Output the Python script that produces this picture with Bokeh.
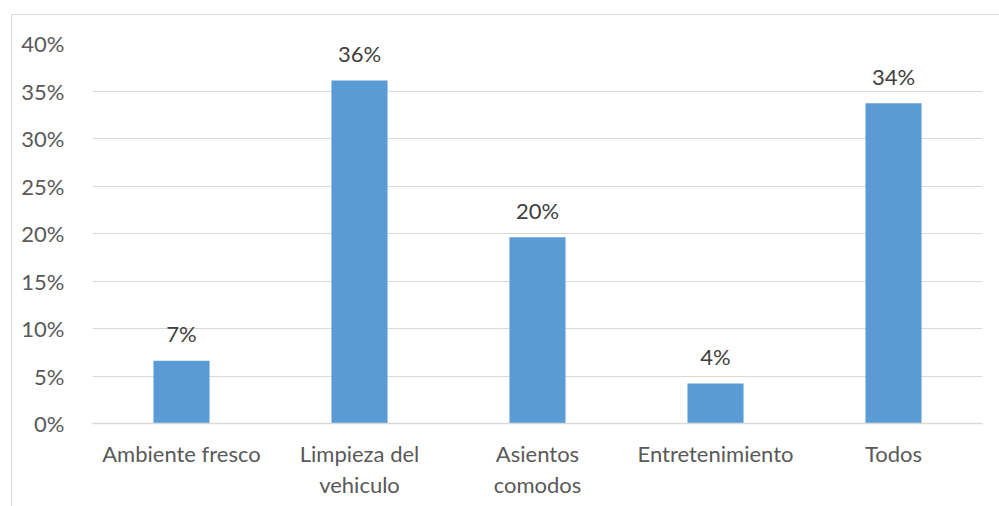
from bokeh.plotting import figure
from bokeh.models import Range1d, NumeralTickFormatter, FixedTicker, ColumnDataSource
from bokeh.core.properties import value
from bokeh.embed import file_html
from bokeh.resources import INLINE

categories = ["Ambiente fresco", "Limpieza del\nvehiculo", "Asientos\ncomodos", "Entretenimiento", "Todos"]
values = [0.066, 0.361, 0.196, 0.042, 0.337]
y_ticks = [0.0, 0.05, 0.10, 0.15, 0.20, 0.25, 0.30, 0.35, 0.40]

labels = [f"{int(v * 100 + 0.5)}%" for v in values]
src = ColumnDataSource(dict(x=categories, top=values, label=labels))

FONT = "Lato"
FS = "22px"

p = figure(x_range=categories, y_range=Range1d(0, 0.4),
           frame_width=890, frame_height=380,
           min_border_left=80, min_border_right=17, min_border_top=28, min_border_bottom=83,
           output_backend="svg", toolbar_location=None)
p.margin = (14, 0, 0, 11)
p.styles = {"border-left": "1px solid #d9d9d9", "border-top": "1px solid #d9d9d9"}
p.outline_line_color = None
p.background_fill_color = "white"
p.border_fill_color = "white"

p.vbar(x="x", top="top", width=0.315, source=src, fill_color="#5b9bd5", line_color=None)
p.text(x="x", y="top", text="label", source=src, text_align="center", text_baseline="alphabetic",
       y_offset=-27, text_font=value(FONT), text_font_size=FS, text_color="#404040")

p.yaxis.ticker = FixedTicker(ticks=y_ticks)
p.yaxis.formatter = NumeralTickFormatter(format="0%")
p.yaxis.axis_line_color = None
p.yaxis.major_tick_line_color = None
p.yaxis.minor_tick_line_color = None
p.yaxis.major_label_standoff = 22
p.yaxis.major_label_text_font = FONT
p.yaxis.major_label_text_font_size = FS
p.yaxis.major_label_text_color = "#595959"

p.xaxis.axis_line_color = "#d9d9d9"
p.xaxis.axis_line_width = 1.5
p.xaxis.major_tick_line_color = None
p.xaxis.minor_tick_line_color = None
p.xaxis.major_label_standoff = 10
p.xaxis.major_label_text_font = FONT
p.xaxis.major_label_text_font_size = FS
p.xaxis.major_label_text_color = "#595959"
p.xaxis.major_label_text_line_height = 1.15

p.xgrid.grid_line_color = None
p.ygrid.grid_line_color = "#d9d9d9"
p.ygrid.grid_line_width = 1.2

open("out.html", "w").write(file_html(p, INLINE))
